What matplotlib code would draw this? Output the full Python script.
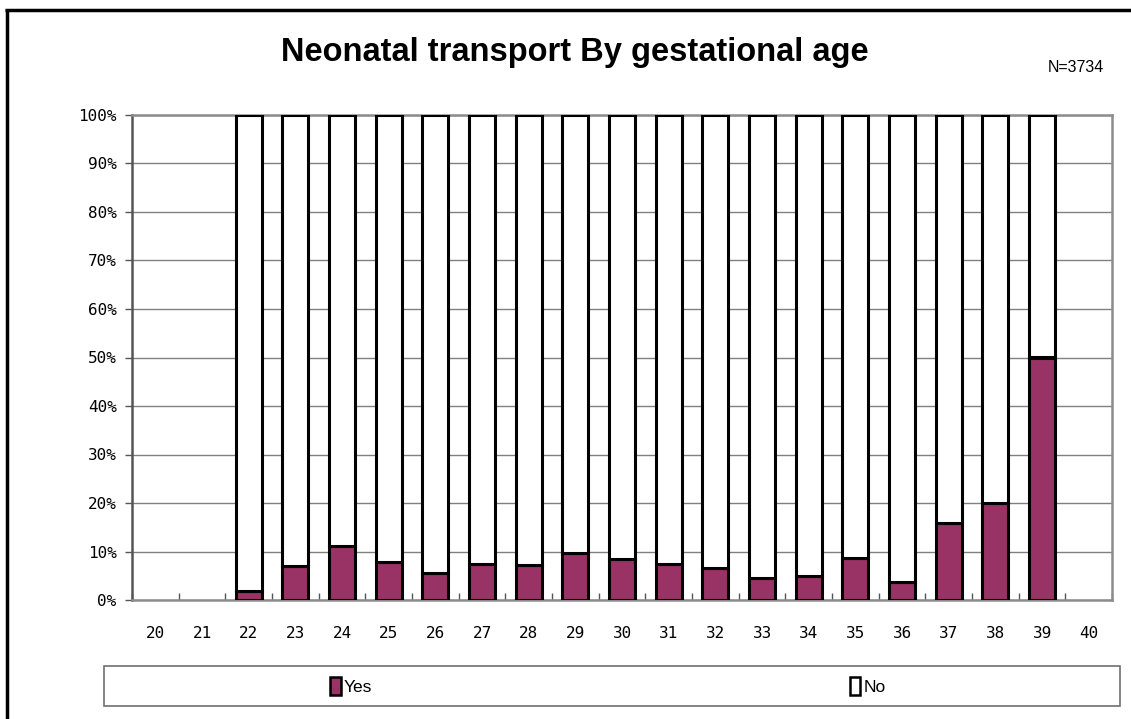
import numpy as np
import matplotlib
matplotlib.use("Agg")
import matplotlib.pyplot as plt
from matplotlib.patches import Rectangle, Patch
from matplotlib.lines import Line2D
from matplotlib.ticker import FixedLocator, PercentFormatter

# ---- data ----
weeks = [20, 21, 22, 23, 24, 25, 26, 27, 28, 29, 30,
         31, 32, 33, 34, 35, 36, 37, 38, 39, 40]
yes_pct = [np.nan, np.nan, 1.8, 7.1, 11.2, 7.9, 5.5, 7.4, 7.2, 9.6, 8.5,
           7.4, 6.7, 4.6, 5.0, 8.7, 3.8, 15.8, 20.0, 50.0, np.nan]
title = "Neonatal transport By gestational age"
n_label = "N=3734"
series_names = ["Yes", "No"]

yes = np.array(yes_pct, dtype=float)
no = 100.0 - yes
has = ~np.isnan(yes)
x = np.arange(len(weeks))

W, H = 1131, 719
fig = plt.figure(figsize=(W / 100, H / 100), dpi=100)
fig.patch.set_facecolor("white")

ax = fig.add_axes([132 / W, 1 - 600 / H, 980 / W, 485 / H])

mono = ["DejaVu Sans Mono"]
plum = "#993366"
bw = 0.56
ax.bar(x[has], yes[has], width=bw, color=plum, edgecolor="black", linewidth=2.2, zorder=3)
ax.bar(x[has], no[has], bottom=yes[has], width=bw, color="white", edgecolor="black",
       linewidth=2.2, zorder=3)

ax.set_xlim(-0.5, len(weeks) - 0.5)
ax.set_ylim(0, 100)
ax.set_yticks(np.arange(0, 101, 10))
ax.yaxis.set_major_formatter(PercentFormatter(decimals=0))
ax.set_xticks(x)
ax.set_xticklabels([str(w) for w in weeks])
ax.xaxis.set_minor_locator(FixedLocator(np.arange(-0.5, len(weeks), 1.0)))
ax.tick_params(axis="x", which="major", length=0, pad=19, labelsize=11.5, colors="black")
ax.tick_params(axis="x", which="minor", direction="in", length=5, width=1, color="#555555")
ax.tick_params(axis="y", which="major", direction="out", length=5, width=1, color="#555555",
               labelsize=11.5, pad=6)
for lab in ax.get_xticklabels() + ax.get_yticklabels():
    lab.set_family(mono)

ax.grid(axis="y", color="#808080", linewidth=1, zorder=0)
ax.set_axisbelow(True)
for s in ax.spines.values():
    s.set_color("#8c8c8c")
    s.set_linewidth(1.8)
ax.spines["left"].set_color("#555555")

fig.text(575 / W, 1 - 53 / H, title, ha="center", va="center", fontsize=23.5,
         fontweight="bold", family=["Liberation Sans"])
fig.text(1076 / W, 1 - 68 / H, n_label, ha="center", va="center", fontsize=11.5,
         family=["Liberation Sans"])

# legend box
box = Rectangle((104 / W, 1 - 706 / H), (1120 - 104) / W, 40 / H,
                transform=fig.transFigure, facecolor="white", edgecolor="#707070",
                linewidth=1.2)
fig.patches.append(box)
handles = [Patch(facecolor=plum, edgecolor="black", linewidth=1.8),
           Patch(facecolor="white", edgecolor="black", linewidth=1.8)]
leg = fig.legend(handles, series_names, loc="center", bbox_to_anchor=(608 / W, 1 - 686 / H),
                 ncol=2, frameon=False, handlelength=0.6, handleheight=1.2,
                 handletextpad=0.2, columnspacing=27.5,
                 prop={"family": "Liberation Sans", "size": 12.5})

# outer frame (left and top edges visible)
fig.add_artist(Line2D([6.5 / W, 6.5 / W], [0, 1 - 8.5 / H], transform=fig.transFigure,
                      color="black", linewidth=2.5, solid_capstyle="butt"))
fig.add_artist(Line2D([5.2 / W, 1], [1 - 9.5 / H, 1 - 9.5 / H], transform=fig.transFigure,
                      color="black", linewidth=2.5, solid_capstyle="butt"))

fig.savefig("out.png", dpi=100, facecolor="white")
